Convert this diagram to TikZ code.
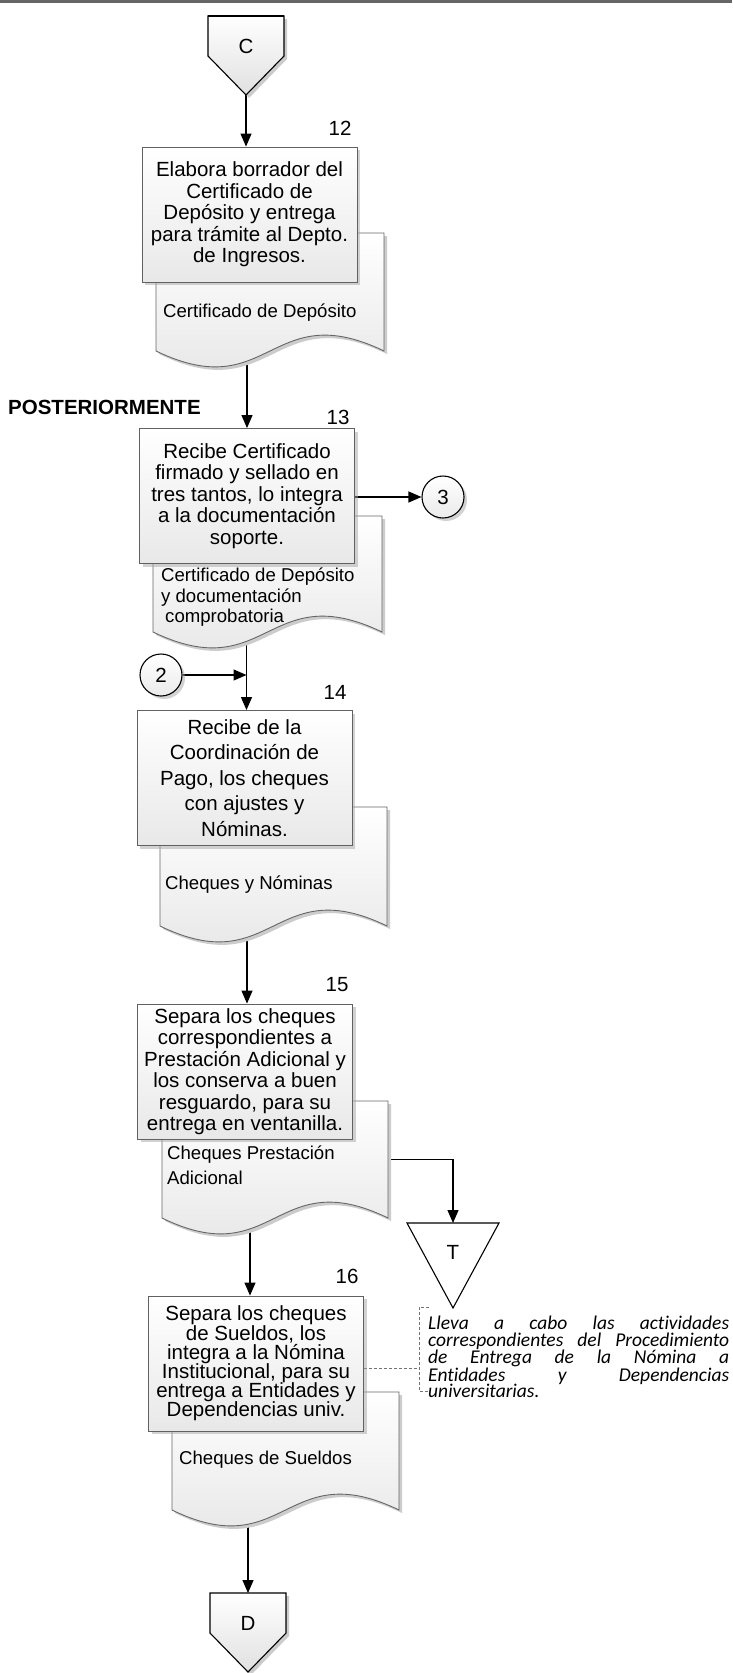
\documentclass[tikz,border=0pt]{standalone}
\usepackage{fontspec}
\setmainfont{Liberation Sans}
\newfontfamily\notefont[Ligatures=NoCommon]{Carlito}
\usetikzlibrary{arrows.meta,shadows}
\pgfdeclarelayer{paper}
\pgfdeclarelayer{links}
\pgfdeclarelayer{shapes}
\pgfsetlayers{paper,links,shapes,main}

\tikzset{
  boxfont/.style={font=\fontsize{20.5}{#1}\selectfont},
  stepbox/.style={rectangle, draw=black!62, line width=0.9pt, top color=white,
    bottom color=black!9, minimum width=215, minimum height=135, inner sep=0pt,
    align=center, drop shadow={shadow xshift=3pt, shadow yshift=-3pt, fill=black!35, opacity=0.5}},
  docframe/.style={rectangle, draw=none, inner sep=0pt, outer sep=0pt, anchor=north west},
  doctext/.style={anchor=west, inner sep=0pt, align=left, font=\fontsize{18.6}{#1}\selectfont},
  stepno/.style={inner sep=0pt, font=\fontsize{20.5}{24}\selectfont},
  pageref/.style={inner sep=0pt, font=\fontsize{20.5}{24}\selectfont},
  onpage/.style={circle, draw=black, line width=1.1pt, minimum size=42, inner sep=0pt,
    top color=white, bottom color=black!8, font=\fontsize{20.5}{24}\selectfont,
    drop shadow={shadow xshift=3pt, shadow yshift=-3pt, fill=black!35, opacity=0.5}},
  link/.style={draw=black, line width=1.2pt, -{Triangle[length=13pt,width=11pt]}},
  notelink/.style={draw=black!55, line width=0.8pt, dash pattern=on 3pt off 2pt},
  docfill/.style={draw=black!60, line width=0.9pt, top color=white, bottom color=black!11},
  pagefill/.style={draw=black, line width=1.1pt, top color=white, bottom color=black!12},
  tfill/.style={draw=black, line width=1.1pt, fill=white},
  note/.style={anchor=west, inner sep=0pt, align=left,
    font=\notefont\itshape\fontsize{19.5}{16.8}\selectfont},
}

% document symbol with a wavy lower edge, drawn around an empty frame node
\newcommand\docshape[1]{%
  \begin{pgfonlayer}{shapes}
    \fill[black!20] ([shift={(3,3)}]#1.north west) -- ([shift={(3,3)}]#1.north east)
      -- ([shift={(3,3)}]#1.south east)
      .. controls ([shift={(3,-52)}]#1.south) and ([shift={(3,58)}]#1.south)
      .. ([shift={(3,3)}]#1.south west) -- cycle;
    \path[docfill] (#1.north west) -- (#1.north east) -- (#1.south east)
      .. controls ([shift={(0,-55)}]#1.south) and ([shift={(0,55)}]#1.south)
      .. (#1.south west) -- cycle;
  \end{pgfonlayer}}

% off-page connector (pentagon pointing down) around its letter
\newcommand\offpage[1]{%
  \coordinate (#1-top) at ([shift={(0,-30)}]#1.center);
  \coordinate (#1-tip) at ([shift={(0,49)}]#1.center);
  \begin{pgfonlayer}{shapes}
    \fill[black!20] ([shift={(-35,-27)}]#1.center) -- ([shift={(41,-27)}]#1.center)
      -- ([shift={(41,13)}]#1.center) -- ([shift={(3,52)}]#1.center)
      -- ([shift={(-35,13)}]#1.center) -- cycle;
    \path[pagefill] ([shift={(-38,-30)}]#1.center) -- ([shift={(38,-30)}]#1.center)
      -- ([shift={(38,10)}]#1.center) -- (#1-tip)
      -- ([shift={(-38,10)}]#1.center) -- cycle;
  \end{pgfonlayer}}

% transfer triangle around its letter
\newcommand\transfer[1]{%
  \coordinate (#1-top) at ([shift={(0,-29)}]#1.center);
  \begin{pgfonlayer}{shapes}
    \path[tfill] ([shift={(-46,-29)}]#1.center) -- ([shift={(46,-29)}]#1.center)
      -- ([shift={(0,56)}]#1.center) -- cycle;
  \end{pgfonlayer}}

\begin{document}
\begin{tikzpicture}[x=1pt, y=-1pt]
\useasboundingbox (0,0) rectangle (732,1673);
\begin{pgfonlayer}{paper}
  \fill[white] (0,0) rectangle (732,1673);
  \fill[black!60] (0,0) rectangle (732,3);
\end{pgfonlayer}

% connector C
\node[pageref] (C) at (246,46) {C};
\offpage{C}
\begin{pgfonlayer}{shapes}
  \draw[line width=2.6pt] ([shift={(-38,-30)}]C.center) -- ([shift={(38,-30)}]C.center);
\end{pgfonlayer}

% step 12
\node[stepno] (n12) at (340,128) {12};
\node[stepbox, boxfont=21.5] (b12) at (249.5,214.5)
  {Elabora borrador del\\Certificado de\\Depósito y entrega\\para trámite al Depto.\\de Ingresos.};
\node[docframe, minimum width=228, minimum height=118] (d12) at (156,233) {};
\docshape{d12}
\node[doctext=20.5] (d12t) at (163,313) {Certificado de Depósito};

\node[anchor=west, inner sep=0pt, font=\bfseries\fontsize{20.5}{24}\selectfont] (later) at (8,407) {POSTERIORMENTE};

% step 13
\node[stepno] (n13) at (338,417) {13};
\node[stepbox, boxfont=21.5] (b13) at (247,496)
  {Recibe Certificado\\firmado y sellado en\\tres tantos, lo integra\\a la documentación\\soporte.};
\node[docframe, minimum width=229, minimum height=116] (d13) at (153,516) {};
\docshape{d13}
\node[doctext=20.5] (d13t) at (161,597.5)
  {Certificado de Depósito\\y documentación\\\hspace*{4pt}comprobatoria};
\node[onpage] (c3) at (443,497) {3};

% step 14
\node[onpage] (c2) at (161,675) {2};
\node[stepno] (n14) at (335,692) {14};
\node[stepbox, boxfont=25.5] (b14) at (244.5,778)
  {Recibe de la\\Coordinación de\\Pago, los cheques\\con ajustes y\\Nóminas.};
\node[docframe, minimum width=227, minimum height=119] (d14) at (160,807) {};
\docshape{d14}
\node[doctext=20.5] (d14t) at (165,885) {Cheques y Nóminas};

% step 15
\node[stepno] (n15) at (337,985) {15};
\node[stepbox, boxfont=21.5] (b15) at (245,1071.5)
  {Separa los cheques\\correspondientes a\\Prestación Adicional y\\los conserva a buen\\resguardo, para su\\entrega en ventanilla.};
\node[docframe, minimum width=226, minimum height=117] (d15) at (162,1101) {};
\docshape{d15}
\node[doctext=25] (d15t) at (167,1165.5) {Cheques Prestación\\Adicional};
\node[pageref] (T) at (453,1252) {T};
\transfer{T}

% step 16
\node[stepno] (n16) at (347,1276) {16};
\node[stepbox, boxfont=19.2] (b16) at (256,1363.5)
  {Separa los cheques\\de Sueldos, los\\integra a la Nómina\\Institucional, para su\\entrega a Entidades y\\Dependencias univ.};
\node[docframe, minimum width=227, minimum height=118] (d16) at (172,1392) {};
\docshape{d16}
\node[doctext=20.5] (d16t) at (179,1460) {Cheques de Sueldos};

% connector D
\node[pageref] (D) at (248,1623) {D};
\offpage{D}

% annotation
\node[note] (note) at (428,1357)
  {\makebox[301pt][s]{Lleva a cabo las actividades}\\
   \makebox[301pt][s]{correspondientes del Procedimiento}\\
   \makebox[301pt][s]{de Entrega de la Nómina a}\\
   \makebox[301pt][s]{Entidades y Dependencias}\\
   universitarias.};
\draw[notelink] (429,1307) -- (419,1307) -- (419,1391) -- (429,1391);
\coordinate (brk) at (419,1368);

% entry points of the flow line
\coordinate (b14in) at ([xshift=2pt]b14.north);
\coordinate (b15in) at ([xshift=2pt]b15.north);
\coordinate (b16in) at ([xshift=-6pt]b16.north);

\begin{pgfonlayer}{links}
  \draw[link] (C-tip) -- (C-tip |- b12.north);
  \draw[link] (d12.south -| b13.north) -- (b13.north);
  \draw[link] (c3.west -| b13.east) -- (c3.west);
  \draw[link] (d13.south -| b14in) -- (b14in);
  \draw[link] (c2.east) -- (c2.east -| b14in);
  \draw[link] (d14.south -| b15in) -- (b15in);
  \draw[link] (d15.east) -| (T-top);
  \draw[link] (d15.south -| b16in) -- (b16in);
  \draw[link] (d16.south -| D-top) -- (D-top);
  \draw[notelink] (brk -| b16.east) -- (brk);
\end{pgfonlayer}
\end{tikzpicture}
\end{document}
